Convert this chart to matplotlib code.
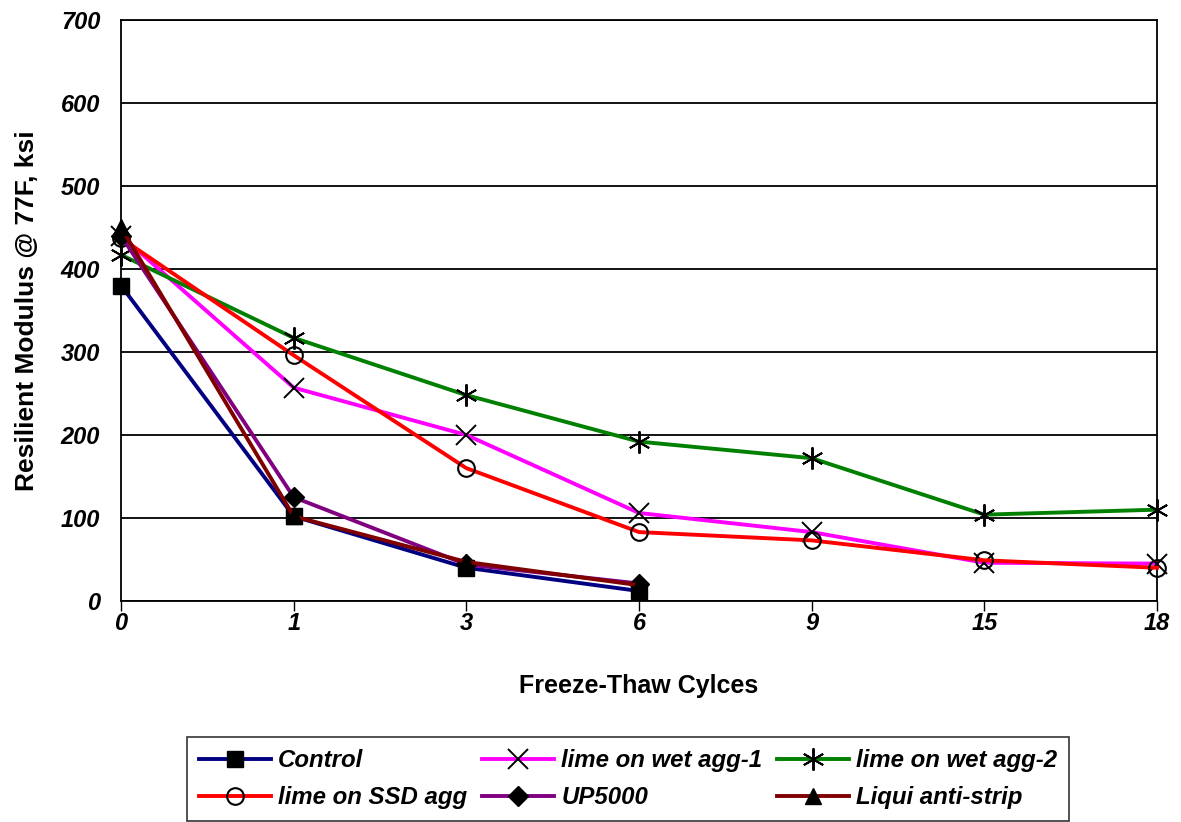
import numpy as np
import matplotlib
matplotlib.use("Agg")
import matplotlib.pyplot as plt

# freeze-thaw cycles (categorical axis, equally spaced)
cycles = ["0", "1", "3", "6", "9", "15", "18"]

control = [380, 102, 40, 12]
wet_agg_1 = [440, 257, 200, 106, 83, 46, 45]
wet_agg_2 = [417, 317, 248, 192, 172, 104, 110]
ssd_agg = [437, 296, 160, 83, 73, 49, 40]
up5000 = [440, 125, 44, 21]
liqui = [450, 102, 47, 19]

plt.rcParams["font.family"] = ["Liberation Sans", "DejaVu Sans"]

fig = plt.figure(figsize=(11.81, 8.22), dpi=100)
ax = fig.add_axes([0.1025, 0.2689, 0.8772, 0.7068])

x = np.arange(len(cycles))
lw = 2.8
ms = 12

series = [
    ("Control", control, "#000080", dict(marker="s", mfc="black", mec="black", ms=11)),
    ("lime on wet agg-1", wet_agg_1, "#FF00FF", dict(marker="x", mec="black", mew=1.4, ms=14)),
    ("lime on wet agg-2", wet_agg_2, "#008000", dict(marker=(6, 2, 0), mec="black", mew=1.4, ms=16)),
    ("lime on SSD agg", ssd_agg, "#FF0000", dict(marker="o", mfc="none", mec="black", mew=1.5)),
    ("UP5000", up5000, "#800080", dict(marker="D", mfc="black", mec="black", ms=10)),
    ("Liqui anti-strip", liqui, "#800000", dict(marker="^", mfc="black", mec="black")),
]

handles = {}
for name, vals, color, mk in series:
    kw = dict(ms=ms)
    kw.update(mk)
    h, = ax.plot(x[:len(vals)], vals, color=color, lw=lw, label=name,
                 clip_on=False, zorder=3, **kw)
    handles[name] = h

ax.set_xlim(0, len(cycles) - 1)
ax.set_ylim(0, 700)
ax.set_yticks(range(0, 701, 100))
ax.set_xticks(x)
ax.set_xticklabels(cycles)
ax.yaxis.grid(True, color="black", lw=1.3)
ax.set_axisbelow(True)
for sp in ax.spines.values():
    sp.set_linewidth(1.3)

for lab in ax.get_xticklabels() + ax.get_yticklabels():
    lab.set_fontsize(17)
    lab.set_fontweight("bold")
    lab.set_fontstyle("italic")
ax.tick_params(axis="x", length=7, width=1, direction="out", pad=1)
ax.tick_params(axis="y", length=0, pad=15)

ax.set_xlabel("Freeze-Thaw Cylces", fontsize=18, fontweight="bold", labelpad=28)
ax.set_ylabel("Resilient Modulus @ 77F, ksi", fontsize=19, fontweight="bold", labelpad=16)

order = ["Control", "lime on SSD agg", "lime on wet agg-1", "UP5000",
         "lime on wet agg-2", "Liqui anti-strip"]
leg = fig.legend([handles[n] for n in order], order, ncol=3,
                 loc="upper left", bbox_to_anchor=(187 / 1181, 1 - 737 / 822),
                 frameon=True, fancybox=False, edgecolor="black",
                 prop=dict(size=17.3, weight="bold", style="italic"),
                 handlelength=3, columnspacing=0.6, handletextpad=0.3,
                 borderpad=0.5, labelspacing=0.6, borderaxespad=0)
leg.get_frame().set_linewidth(1.2)

fig.savefig("out.png", dpi=100)
